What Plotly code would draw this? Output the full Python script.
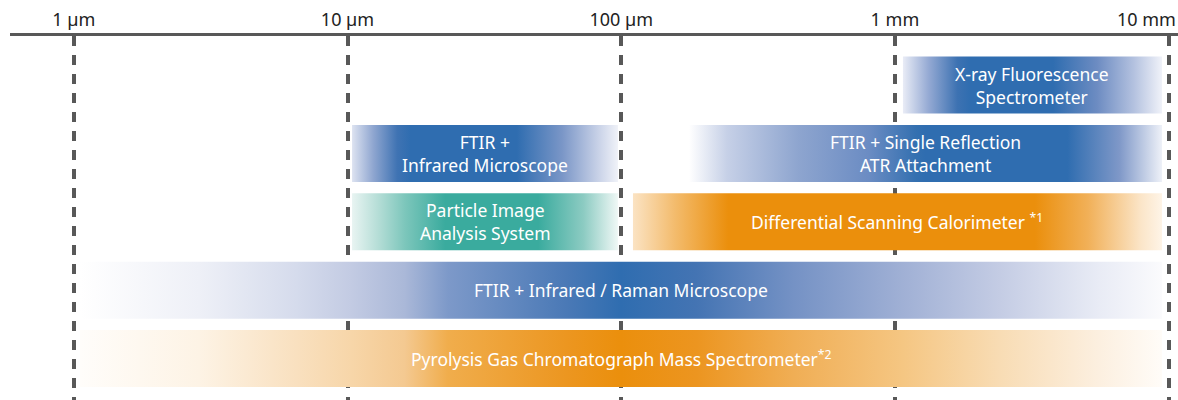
import plotly.graph_objects as go
import math

# ---- data ----
tick_values_um = [1, 10, 100, 1000, 10000]
tick_labels = ["1 µm", "10 µm", "100 µm", "1 mm", "10 mm"]

instruments = [
    "X-ray Fluorescence<br>Spectrometer",
    "FTIR +<br>Infrared Microscope",
    "FTIR + Single Reflection<br>ATR Attachment",
    "Particle Image<br>Analysis System",
    "Differential Scanning Calorimeter <sup>*1</sup>",
    "FTIR + Infrared / Raman Microscope",
    "Pyrolysis Gas Chromatograph Mass Spectrometer<sup>*2</sup>",
]
range_start_um = [1070, 10.39, 177, 10.39, 110.4, 1.054, 1.054]
range_end_um = [9460, 97.3, 9460, 97.3, 9460, 9460, 9460]
row_index = [0, 1, 1, 2, 2, 3, 4]

BLUE = "#2f6db0"
ORANGE = "#eb8f0c"
TEAL = "#3aab9e"

gradients = [
    # X-ray Fluorescence
    [[0, "#e9ecf6"], [0.1, "#94a9d3"], [0.21, "#3d72b2"], [0.26, BLUE], [0.58, BLUE],
     [0.75, "#6d8cc2"], [0.89, "#b3c1df"], [1, "#f0f2f9"]],
    # FTIR + IR microscope
    [[0, "#dde3f1"], [0.08, "#8fa6d0"], [0.17, "#3f73b3"], [0.22, BLUE], [0.62, BLUE],
     [0.79, "#7a96c7"], [0.92, "#c5cfe6"], [1, "#f0f2f8"]],
    # FTIR + Single Reflection
    [[0, "#ffffff"], [0.08, "#c6d0e7"], [0.23, "#8ea5cf"], [0.38, "#6b8cc3"], [0.48, "#3470b0"],
     [0.5, BLUE], [0.8, BLUE], [0.91, "#7f98c8"], [1, "#eef1f8"]],
    # Particle Image
    [[0, "#e8f4f2"], [0.1, "#b4ddd6"], [0.2, "#7cc6bb"], [0.35, TEAL], [0.7, TEAL],
     [0.87, "#8ccbc2"], [1, "#f0f8f6"]],
    # DSC
    [[0, "#fbe3c3"], [0.08, "#f3bb6c"], [0.18, ORANGE], [0.76, ORANGE], [0.86, "#f1b058"],
     [0.96, "#fbe5c8"], [1, "#fef4e7"]],
    # FTIR + IR / Raman
    [[0, "#ffffff"], [0.11, "#eef0f7"], [0.2, "#d5dbec"], [0.25, "#c3cbe3"], [0.3, "#aab8d8"],
     [0.34, "#7d99c9"], [0.45, "#4a79b6"], [0.5, BLUE], [0.57, "#4474b3"], [0.66, "#7592c5"],
     [0.76, "#a0b0d5"], [0.85, "#c4cce4"], [0.94, "#e8ebf5"], [1, "#fbfbfd"]],
    # Pyrolysis
    [[0, "#fffdfa"], [0.11, "#fdf3e5"], [0.2, "#f9e0bf"], [0.25, "#f7d6a9"], [0.3, "#f4c991"],
     [0.34, "#f0ad4c"], [0.45, "#ec9620"], [0.5, ORANGE], [0.57, "#ec9520"], [0.66, "#f0ae55"],
     [0.76, "#f5c682"], [0.85, "#f8dcb4"], [0.94, "#fcefdf"], [1, "#fffcf8"]],
]

BAR_HALF = 0.4167
TICK_FONT = dict(family="Noto Sans", size=18, color="#222222")

fig = go.Figure()
for name, s, e, r, cs in zip(instruments, range_start_um, range_end_um, row_index, gradients):
    fig.add_trace(go.Scatter(
        x=[s, e, e, s, s],
        y=[r - BAR_HALF, r - BAR_HALF, r + BAR_HALF, r + BAR_HALF, r - BAR_HALF],
        mode="none",
        fill="toself",
        fillgradient=dict(type="horizontal", colorscale=cs),
        hoverinfo="skip",
        showlegend=False,
    ))
    xc = 10 ** ((math.log10(s) + math.log10(e)) / 2)
    fig.add_annotation(
        x=math.log10(xc), y=r, text=name, showarrow=False,
        font=dict(family="Noto Sans", size=17.5, color="white"),
        align="center",
    )

# last tick label sits flush against the right edge, so it is placed as an annotation
fig.add_annotation(
    x=math.log10(tick_values_um[-1]), xref="x", xanchor="right", xshift=9,
    y=1, yref="paper", yanchor="middle", yshift=17,
    text=tick_labels[-1], showarrow=False, font=TICK_FONT,
)

fig.update_xaxes(
    type="log",
    range=[-0.2331, 4.0343],
    side="top",
    tickmode="array",
    tickvals=tick_values_um,
    ticktext=tick_labels[:-1] + [""],
    ticks="",
    ticklabelstandoff=0,
    ticklabeloverflow="allow",
    tickfont=TICK_FONT,
    showline=True, linewidth=3, linecolor="#585858",
    showgrid=True, gridcolor="#585858", gridwidth=4, griddash="10px,9px",
    zeroline=False,
    automargin=False,
    fixedrange=True,
)
fig.update_yaxes(
    range=[4.6053, -0.7164],
    visible=False, showgrid=False, zeroline=False,
    fixedrange=True,
)
fig.update_layout(
    width=1178, height=400,
    margin=dict(l=10, r=0, t=36, b=0),
    plot_bgcolor="white", paper_bgcolor="white",
    showlegend=False,
)
fig.write_html(
    "out.html",
    config={"displayModeBar": False},
    post_script="document.body.style.margin='0';document.body.style.overflow='hidden';",
)
